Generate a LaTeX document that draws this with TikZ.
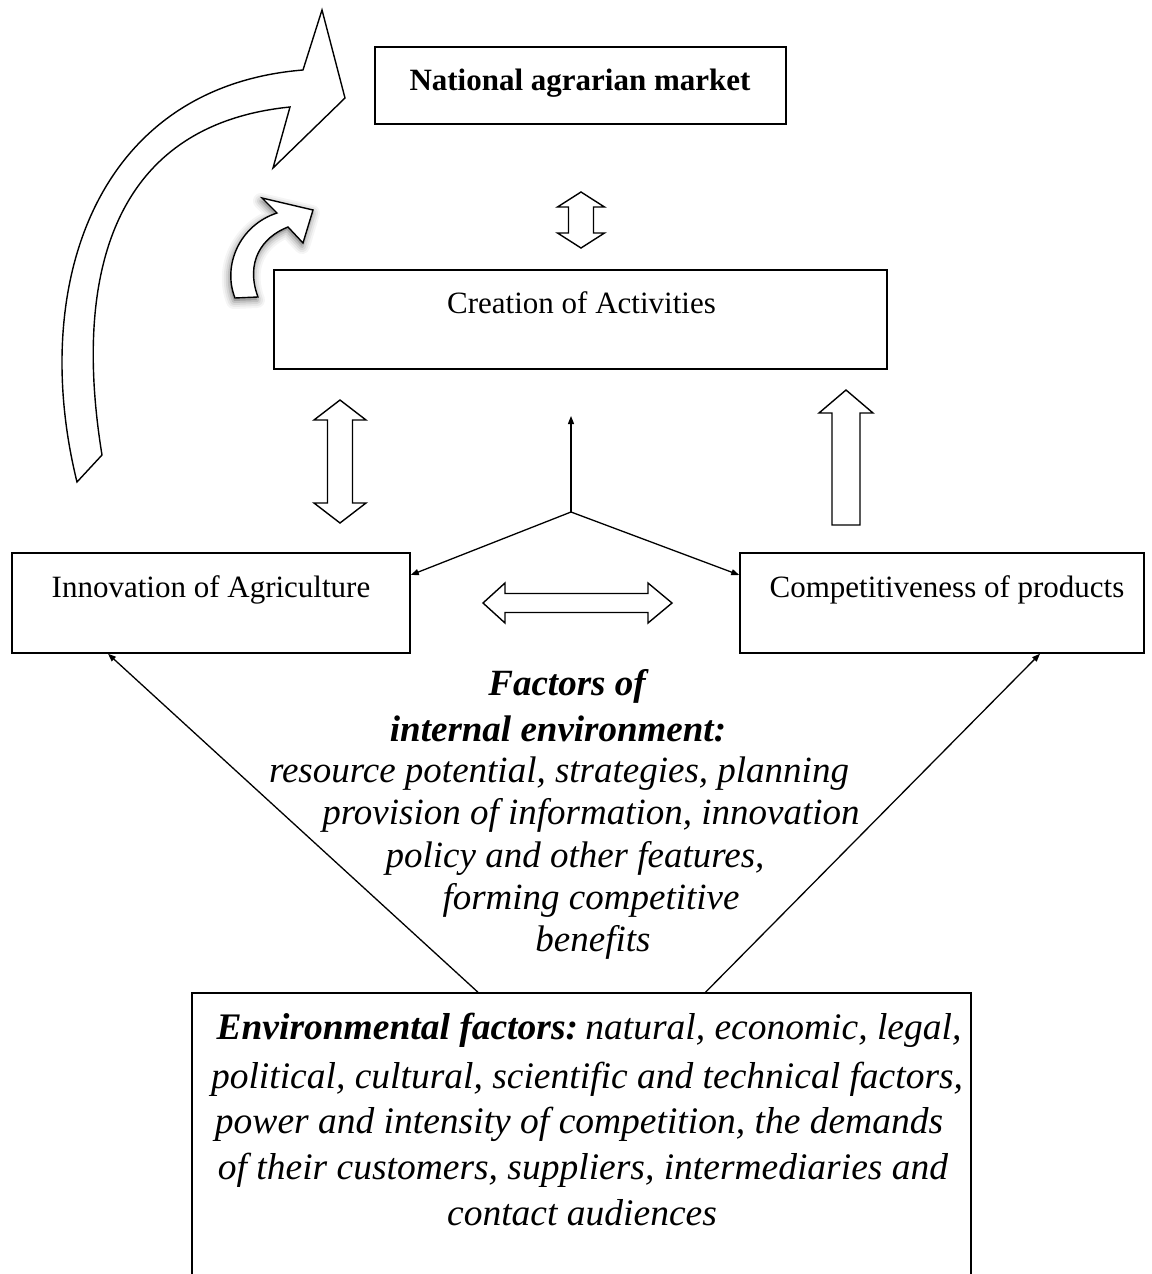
\documentclass[tikz,border=0pt]{standalone}
\usepackage{fontspec}
\setmainfont{Liberation Serif}
\usetikzlibrary{arrows.meta,calc}
\tikzset{
  box/.style={draw, line width=1.5pt, rectangle, inner sep=0pt, fill=white},
  lbl/.style={font=\fontsize{31}{36}\selectfont, anchor=base, inner sep=0pt},
  ital/.style={font=\fontsize{37}{42}\selectfont\itshape, anchor=base, inner sep=0pt},
  envt/.style={font=\fontsize{37.5}{44}\selectfont\itshape, anchor=base, inner sep=0pt},
  conn/.style={line width=1.3pt, -{Triangle[length=8pt,width=6pt]}},
  barrow/.style={draw, fill=white, line width=1.4pt, line join=miter},
}
\def\smarrowpath{(235,298) .. controls (222,265) and (240,225) .. (277,213) -- (262,198) -- (313,210) -- (303,243) -- (288,227) .. controls (262,237) and (245,262) .. (258,297) -- cycle}
\begin{document}
\begin{tikzpicture}[x=1pt,y=-1pt]
\clip (0,0) rectangle (1151,1274);
\fill[white] (0,0) rectangle (1151,1274);

% boxes
\node[box, minimum width=411pt, minimum height=77pt] (market) at (580.5,85.5) {};
\node[lbl, font=\fontsize{31}{36}\selectfont\bfseries] (marketT) at (580,90) {National agrarian market};

\node[box, minimum width=613pt, minimum height=99pt] (creation) at (580.5,319.5) {};
\node[lbl] (creationT) at (581.5,313) {Creation of Activities};

\node[box, minimum width=398pt, minimum height=100pt] (innov) at (211,603) {};
\node[lbl] (innovT) at (211,597) {Innovation of Agriculture};

\node[box, minimum width=404pt, minimum height=100pt] (compet) at (942,603) {};
\node[lbl] (competT) at (947,597) {Competitiveness of products};

\node[box, minimum width=779pt, minimum height=320pt] (env) at (581.5,1153) {};

% internal factors text
\node[ital, font=\fontsize{37}{42}\selectfont\bfseries\itshape] (f1) at (567,695) {Factors of};
\node[ital, font=\fontsize{37}{42}\selectfont\bfseries\itshape] (f2) at (558,741) {internal environment:};
\node[ital] (f3) at (559,782) {resource potential, strategies, planning};
\node[ital] (f4) at (591,824) {provision of information, innovation};
\node[ital] (f5) at (575,867) {policy and other features,};
\node[ital] (f6) at (591,909) {forming competitive};
\node[ital] (f7) at (593,951) {benefits};

% environmental text
\node[envt] (e1) at (589,1039) {{\bfseries Environmental factors:}\kern-2pt\ natural, economic, legal,};
\node[envt] (e2) at (587,1088) {political, cultural, scientific and technical factors,};
\node[envt] (e3) at (579,1133) {power and intensity of competition, the demands};
\node[envt] (e4) at (583,1179) {of their customers, suppliers, intermediaries and};
\node[envt] (e5) at (582,1225) {contact audiences};

% thin connectors
\coordinate (hub) at (571,512);
\coordinate (up) at (571,416);
\draw[conn] (hub) -- (up);
\draw[conn] (hub) -- ([yshift=28pt]innov.east);
\draw[conn] (hub) -- ([yshift=28pt]compet.west);
\draw[conn] ([xshift=-103.5pt]env.north) -- ([xshift=-103pt]innov.south);
\draw[conn] ([xshift=124pt]env.north) -- ([xshift=98pt]compet.south);

% block arrows
\draw[barrow] (581,192) -- (604.5,207) -- (593.5,207) -- (593.5,233) -- (604.5,233) -- (581,248) -- (557.5,233) -- (568.5,233) -- (568.5,207) -- (557.5,207) -- cycle;
\draw[barrow] (340,400) -- (366,420) -- (352.5,420) -- (352.5,503) -- (366,503) -- (340,523) -- (314,503) -- (327.5,503) -- (327.5,420) -- (314,420) -- cycle;
\draw[barrow] (846,390) -- (873,413) -- (860,413) -- (860,525) -- (832,525) -- (832,413) -- (819,413) -- cycle;
\draw[barrow] (483,603) -- (505,583) -- (505,593.5) -- (648,593.5) -- (648,583) -- (672,603) -- (648,623) -- (648,612.5) -- (505,612.5) -- (505,623) -- cycle;

% big curved arrow
\draw[barrow] (77,482) .. controls (29,288) and (94,87) .. (303,70) -- (322,10) -- (345,98) -- (273,168) -- (290,107) .. controls (111,125) and (73,277) .. (102,455) -- cycle;

% small curved arrow with soft shadow
\begin{scope}[shift={(-1,3)}]
\foreach \w/\o in {16/0.04,12/0.05,8/0.07,4/0.1}{
  \draw[black, opacity=\o, line width=\w pt, line join=round, fill=black, fill opacity=0.04] \smarrowpath;
}
\end{scope}
\draw[barrow] \smarrowpath;
\end{tikzpicture}
\end{document}
